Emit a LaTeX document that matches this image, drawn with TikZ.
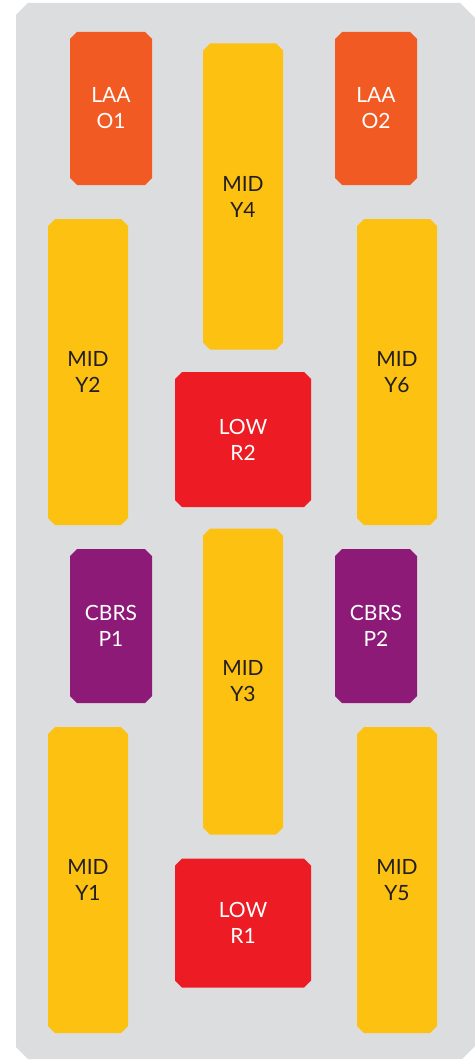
\documentclass[tikz,border=0pt]{standalone}
\usepackage{fontspec}
\setmainfont{Lato}
\usetikzlibrary{shapes.misc}
\definecolor{panel}{HTML}{DCDDDF}
\definecolor{laa}{HTML}{F15A22}
\definecolor{mid}{HTML}{FDC112}
\definecolor{low}{HTML}{ED1C24}
\definecolor{cbrs}{HTML}{8E1A77}
\definecolor{ink}{HTML}{231F20}
\begin{document}
\begin{tikzpicture}[x=1pt,y=-1pt,font=\fontsize{21}{26}\selectfont,
  band/.style={chamfered rectangle,chamfered rectangle xsep=3.5pt,chamfered rectangle ysep=3.5pt,
    inner sep=0pt,align=center,draw=none},
  laabox/.style={band,fill=laa,text=white,minimum width=82pt,minimum height=153pt},
  midbox/.style={band,fill=mid,text=ink,minimum width=80pt,minimum height=306pt},
  lowbox/.style={band,fill=low,text=white,minimum width=136pt,minimum height=132pt},
  cbrsbox/.style={band,fill=cbrs,text=white,minimum width=82pt,minimum height=154pt}]
\useasboundingbox (0,0) rectangle (474,1062);
\fill[panel] (16,15) -- (28,3) -- (460,3) -- (476,19) -- (476,1045) -- (462,1059)
  -- (28,1059) -- (16,1047) -- cycle;
\node[laabox] (o1) at (111,108.5) {LAA\\O1};
\node[laabox] (o2) at (376,108.5) {LAA\\O2};
\node[midbox] (y4) at (243,196.5) {MID\\Y4};
\node[midbox] (y2) at (88,372) {MID\\Y2};
\node[midbox] (y6) at (397,372) {MID\\Y6};
\node[lowbox,minimum height=135pt] (r2) at (243,439.5) {LOW\\R2};
\node[midbox] (y3) at (243,681.5) {MID\\Y3};
\node[cbrsbox] (p1) at (111,626) {CBRS\\P1};
\node[cbrsbox] (p2) at (376,626) {CBRS\\P2};
\node[midbox] (y1) at (88,880) {MID\\Y1};
\node[midbox] (y5) at (397,880) {MID\\Y5};
\node[lowbox,minimum height=129pt] (r1) at (243,923) {LOW\\R1};
\end{tikzpicture}
\end{document}
